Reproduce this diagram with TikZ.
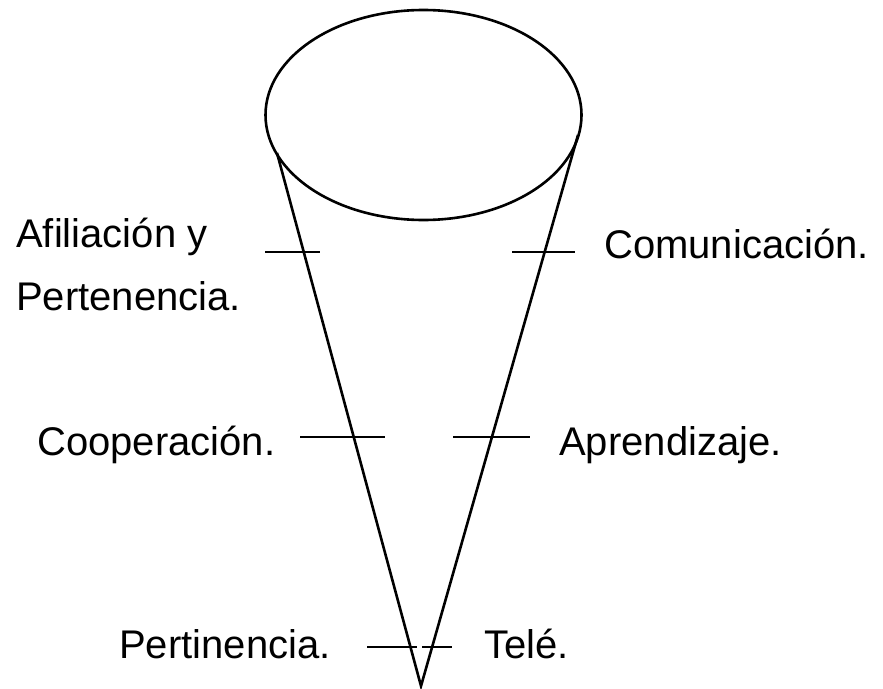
\documentclass[tikz,border=0pt]{standalone}
\usepackage{fontspec}
\setmainfont{Liberation Sans}
\begin{document}
\begin{tikzpicture}[x=1pt,y=-1pt,line width=2.6pt,
    lbl/.style={inner sep=0pt,anchor=base west,font=\fontsize{40}{44}\selectfont}]
    \useasboundingbox (0,0) rectangle (883,688);
    % Cone (top ellipse and two sides)
    \coordinate (top) at (423.5,115);
    \coordinate (l) at (277,153); \coordinate (r) at (578,135);
    \coordinate (apex) at (421,686);
    \draw (top) ellipse [x radius=158, y radius=105];
    \draw (l)--(apex)--(r);
    % Cross marks on the sides
    \draw (265,252)--(320,252); \draw (512,252)--(575,252);
    \draw (300,437)--(385,437); \draw (453,437)--(530,437);
    \draw (367,647)--(417,647); \draw (422,647)--(452,647);
    % Labels
    \node[lbl] (afil) at (15,247) {Afiliación y};
    \node[lbl] (pert) at (15,310) {Pertenencia.};
    \node[lbl] (comu) at (603,258) {Comunicación.};
    \node[lbl] (coop) at (36,455) {Cooperación.};
    \node[lbl] (apre) at (558,455) {Aprendizaje.};
    \node[lbl] (perti) at (118,658) {Pertinencia.};
    \node[lbl] (tele) at (483,658) {Telé.};
\end{tikzpicture}
\end{document}
